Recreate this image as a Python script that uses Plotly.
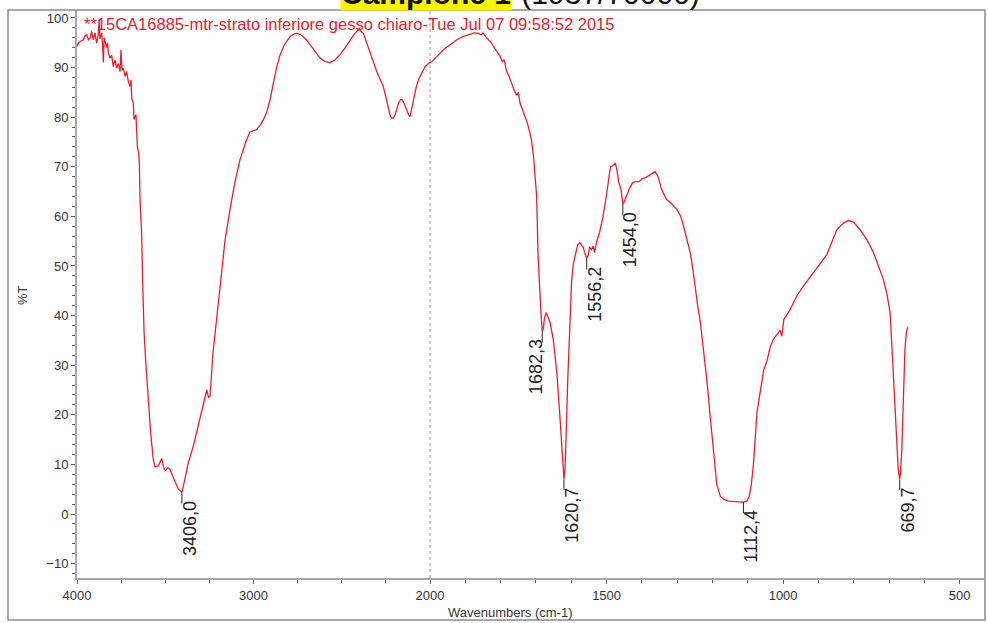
import plotly.graph_objects as go

# ---------------- data ----------------
wavenumber = [4000, 3993, 3980, 3964, 3955, 3945, 3935, 3926, 3917, 3908, 3898, 3889, 3880, 3874, 3870,
              3860, 3855, 3851, 3846, 3841, 3832, 3827, 3822, 3813, 3804, 3794, 3785, 3775, 3766, 3756,
              3751, 3745, 3738, 3728, 3719, 3709, 3700, 3694, 3690, 3681, 3677, 3666, 3658, 3651, 3647,
              3643, 3634, 3628, 3620, 3609, 3596, 3583, 3568, 3558, 3539, 3528, 3520, 3510, 3501, 3485,
              3473, 3454, 3440, 3426, 3412, 3406, 3398, 3385, 3369, 3341, 3313, 3284, 3265, 3255, 3246,
              3231, 3208, 3190, 3161, 3133, 3105, 3076, 3050, 3039, 3020, 2982, 2960, 2944, 2925, 2906,
              2887, 2868, 2850, 2831, 2812, 2793, 2770, 2755, 2735, 2718, 2700, 2680, 2650, 2623, 2595,
              2567, 2540, 2510, 2480, 2453, 2430, 2415, 2405, 2400, 2395, 2378, 2360, 2340, 2320, 2302,
              2285, 2265, 2250, 2236, 2225, 2217, 2208, 2198, 2190, 2179, 2168, 2160, 2150, 2141, 2128,
              2120, 2113, 2105, 2094, 2080, 2066, 2045, 2028, 2010, 1995, 1980, 1962, 1945, 1924, 1905,
              1887, 1875, 1863, 1855, 1850, 1839, 1830, 1820, 1812, 1802, 1795, 1790, 1783, 1775, 1764,
              1755, 1750, 1745, 1738, 1731, 1724, 1717, 1712, 1707, 1702, 1698, 1694, 1690, 1686, 1684,
              1682.3, 1679, 1676, 1671, 1666, 1660, 1651, 1641, 1633, 1627, 1623, 1620.7, 1618, 1616, 1610,
              1603, 1599, 1594, 1589, 1582, 1575, 1570, 1566, 1561, 1556.2, 1552, 1548, 1543, 1538, 1534,
              1528, 1520, 1510, 1501, 1495, 1489, 1482, 1475, 1470, 1466, 1459, 1454, 1450, 1445, 1436,
              1426, 1418, 1408, 1399, 1389, 1378, 1363, 1355, 1344, 1330, 1315, 1301, 1290, 1282, 1272,
              1263, 1255, 1249, 1242, 1235, 1225, 1216, 1207, 1197, 1188, 1178, 1169, 1155, 1141, 1125,
              1112.4, 1103, 1096, 1090, 1084, 1074, 1065, 1055, 1046, 1036, 1027, 1017, 1008, 1004, 998,
              980, 961, 940, 914, 895, 876, 862, 848, 830, 815, 800, 782, 762, 744, 730,
              716, 705, 697, 692, 687, 682, 678, 674, 670, 668, 664, 659, 655, 651, 647]
transmittance = [94.3, 94.9, 95.3, 95.6, 96.4, 96.6, 95.6, 95.9, 97.3, 95.6, 97.0, 94.9, 96.5, 99.6, 95.8,
                 97.0, 94.5, 91.0, 96.0, 95.2, 94.0, 95.0, 92.9, 91.9, 92.5, 90.2, 91.5, 89.9, 90.8, 89.2,
                 93.6, 89.4, 89.9, 88.2, 89.2, 87.2, 86.2, 87.5, 83.8, 82.9, 79.5, 80.5, 74.1, 72.8, 71.0,
                 63.4, 56.7, 46.6, 36.6, 29.8, 23.1, 16.5, 11.0, 9.5, 9.7, 10.5, 11.2, 9.5, 8.7, 9.3,
                 9.0, 7.3, 6.2, 5.0, 4.6, 4.3, 5.5, 7.8, 10.4, 13.7, 17.8, 21.8, 25.0, 23.5, 23.8,
                 32.0, 39.9, 46.6, 55.3, 61.4, 67.0, 71.5, 74.5, 75.5, 77.0, 77.5, 78.5, 79.5, 81.0, 83.5,
                 87.0, 90.2, 92.5, 94.2, 95.3, 96.2, 96.8, 96.9, 96.7, 96.2, 95.6, 94.6, 93.2, 91.9, 91.2,
                 91.0, 91.5, 92.6, 94.0, 95.6, 96.7, 97.3, 97.6, 98.0, 97.4, 96.9, 95.0, 92.9, 91.0, 89.2,
                 87.8, 86.2, 84.0, 81.5, 80.2, 79.8, 79.8, 80.5, 81.5, 82.8, 83.5, 83.6, 83.0, 82.2, 80.8,
                 80.4, 80.1, 81.5, 83.5, 85.8, 87.5, 89.0, 90.2, 90.8, 91.2, 92.3, 93.6, 94.5, 95.6, 96.3,
                 96.8, 97.0, 96.9, 96.6, 97.0, 95.9, 95.3, 94.2, 93.3, 92.3, 91.2, 91.6, 89.2, 88.0, 85.8,
                 84.4, 85.0, 82.8, 81.5, 80.1, 78.7, 76.8, 75.0, 72.1, 68.0, 64.0, 52.0, 45.0, 40.6, 38.6,
                 36.8, 37.5, 39.5, 40.6, 39.8, 38.6, 35.2, 28.6, 20.5, 13.7, 9.5, 7.0, 9.0, 12.5, 27.0,
                 40.6, 47.0, 50.5, 52.0, 54.2, 54.7, 54.0, 53.7, 52.5, 51.5, 52.2, 53.8, 53.3, 54.0, 52.7,
                 55.0, 56.7, 60.0, 64.0, 67.0, 70.0, 70.2, 70.8, 69.0, 67.0, 65.4, 62.5, 62.9, 64.0, 65.5,
                 66.8, 67.0, 67.0, 67.6, 67.8, 68.3, 69.0, 68.2, 65.4, 63.4, 62.5, 61.4, 60.0, 58.0, 55.5,
                 52.7, 49.0, 45.6, 42.0, 39.0, 33.0, 27.0, 20.0, 12.0, 6.0, 3.6, 3.0, 2.6, 2.5, 2.4,
                 2.4, 2.6, 3.5, 6.0, 10.0, 20.5, 24.5, 29.0, 30.8, 33.8, 35.3, 36.2, 37.0, 35.8, 39.2,
                 41.2, 44.0, 46.2, 48.7, 50.5, 52.3, 54.8, 57.3, 58.6, 59.2, 58.8, 57.3, 55.2, 52.7, 50.0,
                 47.3, 44.0, 40.6, 34.0, 27.0, 20.0, 13.7, 9.0, 7.0, 8.0, 12.5, 27.0, 33.0, 36.6, 37.6]

peak_wn = [3406.0, 1682.3, 1620.7, 1556.2, 1454.0, 1112.4, 669.7]
peak_t = [4.3, 36.8, 7.0, 51.5, 62.5, 2.4, 7.0]
peak_labels = ["3406,0", "1682,3", "1620,7", "1556,2", "1454,0", "1112,4", "669,7"]
peak_side = [1, -1, 1, 1, 1, 1, 1]   # label to the right (1) or left (-1) of its tick

x_tick_wn = [4000, 3000, 2000, 1500, 1000, 500]
x_tick_text = ["4000", "3000", "2000", "1500", "1000", "500"]
x_minor_wn = [3750, 3500, 3250, 2750, 2500, 2250, 1900, 1800, 1700, 1600, 1400, 1300, 1200, 1100,
              900, 800, 700, 600]
y_tick_vals = [-10, 0, 10, 20, 30, 40, 50, 60, 70, 80, 90, 100]

header_text = "**15CA16885-mtr-strato inferiore gesso chiaro-Tue Jul 07 09:58:52 2015"
title_main = "Campione 1"
title_rest = " (1937/70000)"


# OMNIC-style split axis: 4000-2000 compressed 2x relative to 2000-400
def axis_pos(wn):
    return (4000 - wn) / 2.0 if wn >= 2000 else 1000 + (2000 - wn)


W, H = 988, 623
L, R, T, B = 77, 4, 10, 45
PW, PH = W - L - R, H - T - B


def px(xp):
    return (xp - L) / PW


def py(yp):
    return 1 - (yp - T) / PH


RED = "#e5202e"
FONT = "Liberation Sans, Arial, sans-serif"

fig = go.Figure()
fig.add_trace(go.Scatter(
    x=[axis_pos(w) for w in wavenumber], y=transmittance,
    mode="lines", line=dict(color=RED, width=1.3), hoverinfo="skip", showlegend=False))

shapes = []
annotations = []

# dashed line at 2000
shapes.append(dict(type="line", xref="x", yref="paper", x0=axis_pos(2000), x1=axis_pos(2000),
                   y0=0, y1=1, line=dict(color="#9a9a9a", width=1, dash="dot")))
# outer frame
shapes.append(dict(type="rect", xref="paper", yref="paper", x0=px(8), x1=px(985), y0=py(620), y1=1,
                   line=dict(color="#8c8c8c", width=1.5), fillcolor="rgba(0,0,0,0)"))

# peak labels
for wn, t, lab, side in zip(peak_wn, peak_t, peak_labels, peak_side):
    xv = axis_pos(wn)
    shapes.append(dict(type="line", xref="x", yref="y", x0=xv, x1=xv, y0=t, y1=t - 2.2,
                       line=dict(color="#222222", width=1)))
    annotations.append(dict(x=xv, y=t - 1.2, xref="x", yref="y", text=lab, showarrow=False,
                            textangle=-90, xanchor="center", yanchor="top",
                            xshift=8 if side > 0 else -6,
                            font=dict(family=FONT, size=18, color="#222222")))

# header
annotations.append(dict(x=px(82), y=py(24), xref="paper", yref="paper", text=header_text,
                        showarrow=False, xanchor="left", yanchor="middle",
                        font=dict(family=FONT, size=16.5, color=RED)))
# cut-off title (only its lower edge is inside the page, as in the scan)
annotations.append(dict(x=px(512), y=py(11), xref="paper", yref="paper", text="<b>" + title_main + "</b>",
                        showarrow=False, xanchor="right", yanchor="bottom", bgcolor="#f7f300",
                        borderpad=0, font=dict(family=FONT, size=30, color="#111111")))
annotations.append(dict(x=px(512), y=py(11), xref="paper", yref="paper", text=title_rest,
                        showarrow=False, xanchor="left", yanchor="bottom", borderpad=0,
                        font=dict(family=FONT, size=30, color="#111111")))
# axis titles
annotations.append(dict(x=px(22), y=py(295), xref="paper", yref="paper", text="%T", showarrow=False,
                        textangle=-90, xanchor="center", yanchor="middle",
                        font=dict(family=FONT, size=13, color="#333333")))
annotations.append(dict(x=px(510), y=py(612), xref="paper", yref="paper", text="Wavenumbers (cm-1)",
                        showarrow=False, xanchor="center", yanchor="middle",
                        font=dict(family=FONT, size=13, color="#333333")))

fig.update_layout(
    width=W, height=H, margin=dict(l=L, r=R, t=T, b=B),
    paper_bgcolor="white", plot_bgcolor="white",
    shapes=shapes, annotations=annotations, showlegend=False,
    xaxis=dict(range=[0, axis_pos(431)], tickmode="array",
               tickvals=[axis_pos(w) for w in x_tick_wn], ticktext=x_tick_text,
               showgrid=False, zeroline=False, showline=True, linecolor="#a8a8a8", linewidth=2,
               ticks="outside", ticklen=4, tickcolor="#666666",
               tickfont=dict(family=FONT, size=13, color="#333333"),
               minor=dict(tickmode="array", tickvals=[axis_pos(w) for w in x_minor_wn],
                          ticks="outside", ticklen=3, tickcolor="#666666")),
    yaxis=dict(range=[-12.9, 101.6], tickmode="array", tickvals=y_tick_vals,
               showgrid=False, zeroline=False, showline=True, linecolor="#a8a8a8", linewidth=2,
               ticks="outside", ticklen=4, tickcolor="#666666",
               tickfont=dict(family=FONT, size=13, color="#333333"),
               minor=dict(dtick=2, ticks="outside", ticklen=3, tickcolor="#666666")),
)

fig.write_html("out.html", config={"displayModeBar": False},
               post_script="document.body.style.margin='0px';document.body.style.overflow='hidden';")
